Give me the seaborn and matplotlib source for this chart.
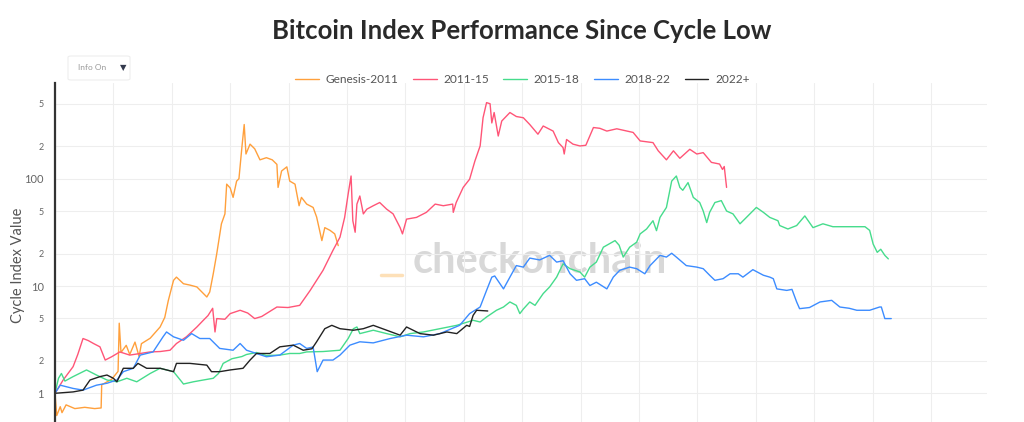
import matplotlib
matplotlib.use('Agg')
import matplotlib.pyplot as plt
import seaborn as sns
import pandas as pd
from matplotlib.patches import FancyBboxPatch
from matplotlib.lines import Line2D

# (day since cycle low, index value)
genesis_2011 = [(0, 1.0), (3, 0.62), (9, 0.75), (12, 0.66), (19, 0.78), (34, 0.72), (51, 0.74), (68, 0.72),
                (79, 0.73), (80, 1.2), (97, 1.35), (108, 1.6), (110, 4.5), (113, 2.4), (122, 2.8), (128, 2.3),
                (137, 3.0), (144, 2.2), (148, 2.9), (163, 3.26), (180, 4.15), (188, 5.1), (194, 7.3),
                (203, 11.3), (208, 12.1), (220, 10.5), (231, 10.2), (243, 9.8), (260, 7.9), (265, 8.8),
                (271, 13), (277, 20), (285, 38), (291, 47), (294, 89), (300, 82), (305, 67), (311, 95),
                (315, 100), (320, 195), (324, 320), (327, 170), (334, 210), (342, 190), (351, 150), (362, 157),
                (372, 150), (380, 136), (382, 83), (388, 118), (397, 129), (402, 95), (411, 89), (418, 56),
                (422, 67), (431, 58), (442, 54), (448, 44), (457, 26.5), (462, 35), (471, 33), (479, 30.6),
                (485, 23.8)]

cycle_2011_15 = [(0, 1.0), (14, 1.33), (31, 1.77), (39, 2.3), (48, 3.24), (57, 3.1), (66, 2.91), (77, 2.71),
                 (86, 2.04), (97, 2.19), (111, 2.43), (128, 2.27), (146, 2.35), (163, 2.43), (180, 2.45),
                 (197, 2.52), (208, 2.91), (225, 3.36), (243, 4.15), (254, 4.79), (262, 5.3), (270, 6.2),
                 (274, 3.73), (277, 4.97), (291, 4.9), (300, 5.53), (317, 5.94), (330, 5.6), (342, 4.97),
                 (354, 5.2), (380, 6.37), (399, 6.3), (419, 6.6), (437, 9.1), (459, 14), (476, 21.5),
                 (488, 28.5), (496, 43.6), (502, 72), (507, 106), (510, 40.6), (514, 31.7), (517, 58),
                 (522, 69), (528, 47), (534, 52), (545, 56), (556, 60), (568, 52), (579, 47), (591, 35),
                 (595, 30.6), (602, 42), (619, 43.6), (636, 48.6), (651, 58), (665, 56), (681, 58),
                 (682, 48.6), (687, 60), (699, 83), (710, 99), (719, 146), (728, 202), (733, 370), (739, 512),
                 (745, 500), (748, 331), (752, 414), (759, 250), (765, 345), (779, 414), (790, 380),
                 (802, 370), (813, 320), (827, 260), (836, 310), (853, 278), (862, 217), (870, 195),
                 (872, 170), (876, 232), (887, 210), (899, 202), (909, 205), (922, 300), (933, 295),
                 (945, 278), (962, 292), (990, 270), (1002, 225), (1024, 217), (1033, 182), (1047, 150),
                 (1059, 182), (1070, 155), (1087, 188), (1099, 170), (1110, 175), (1124, 142), (1138, 137),
                 (1143, 122), (1146, 130), (1150, 83)]

cycle_2015_18 = [(0, 1.0), (6, 1.38), (11, 1.53), (17, 1.3), (31, 1.43), (54, 1.65), (71, 1.48), (89, 1.33),
                 (106, 1.28), (123, 1.38), (140, 1.28), (163, 1.53), (180, 1.71), (203, 1.59), (217, 1.28),
                 (220, 1.22), (237, 1.28), (254, 1.33), (271, 1.38), (280, 1.53), (288, 1.9), (303, 2.1),
                 (320, 2.2), (328, 2.3), (345, 2.4), (362, 2.25), (385, 2.27), (402, 2.35), (419, 2.35),
                 (431, 2.43), (459, 2.45), (488, 2.52), (502, 3.24), (511, 4.0), (517, 4.15), (522, 3.6),
                 (545, 3.87), (568, 3.6), (591, 3.36), (608, 3.6), (631, 3.73), (659, 4.0), (688, 4.3),
                 (716, 4.79), (728, 4.62), (739, 5.14), (756, 5.94), (768, 6.37), (779, 7.1), (790, 6.6),
                 (796, 5.53), (802, 6.1), (813, 7.1), (822, 6.6), (836, 8.5), (847, 9.8), (859, 12.1),
                 (870, 16.1), (882, 14.5), (899, 13.5), (907, 12.1), (916, 15), (927, 16.7), (939, 23),
                 (959, 26.5), (966, 24), (973, 18.6), (984, 23), (996, 25.6), (1002, 30.6), (1013, 34),
                 (1024, 40.6), (1030, 32.8), (1036, 43.6), (1047, 54), (1056, 95), (1064, 106), (1070, 83),
                 (1075, 78), (1084, 92), (1093, 67), (1104, 60), (1110, 50), (1116, 39), (1121, 48.6),
                 (1130, 60), (1141, 62.5), (1150, 50), (1161, 47), (1173, 38), (1184, 43.6), (1201, 54),
                 (1213, 48.6), (1224, 43.6), (1238, 40.6), (1241, 36.6), (1255, 34), (1270, 36.6),
                 (1284, 45), (1298, 35), (1315, 38), (1332, 35.7), (1361, 35.7), (1387, 35.7), (1395, 33),
                 (1401, 24.6), (1408, 20.6), (1414, 22), (1421, 19.3), (1427, 17.9)]

cycle_2018_22 = [(0, 1.0), (9, 1.19), (31, 1.11), (48, 1.07), (71, 1.19), (89, 1.24), (106, 1.33),
                 (117, 1.59), (134, 1.71), (146, 2.27), (168, 2.43), (185, 3.36), (191, 3.73), (203, 3.36),
                 (220, 3.12), (234, 3.6), (248, 3.24), (265, 3.24), (282, 2.62), (305, 2.52), (317, 2.91),
                 (328, 2.52), (345, 2.35), (362, 2.19), (385, 2.27), (408, 2.81), (419, 2.91), (431, 2.62),
                 (442, 2.7), (449, 1.59), (459, 2.04), (476, 2.04), (488, 2.27), (505, 2.81), (522, 3.02),
                 (545, 2.95), (574, 3.24), (602, 3.48), (631, 3.36), (659, 3.6), (693, 4.3), (710, 5.53),
                 (728, 6.37), (739, 9.1), (748, 12.1), (753, 12.4), (762, 10.5), (768, 9.4), (779, 12.1),
                 (790, 15.5), (802, 15), (813, 18.2), (830, 17.5), (847, 19.3), (859, 16.7), (870, 17.2),
                 (882, 13), (893, 11.3), (907, 11.7), (916, 10.1), (927, 10.85), (945, 9.4), (956, 12.1),
                 (967, 14), (984, 15), (996, 14.5), (1010, 13), (1019, 15.5), (1036, 19.3), (1047, 18.6),
                 (1056, 20.2), (1064, 18.6), (1081, 15.5), (1099, 15), (1110, 14.5), (1121, 12.6),
                 (1130, 11.3), (1144, 11.7), (1156, 13), (1170, 13), (1178, 12.1), (1195, 14.2),
                 (1213, 12.6), (1224, 12.1), (1230, 11.7), (1236, 9.4), (1253, 9.1), (1262, 9.3),
                 (1270, 7.1), (1275, 6.15), (1292, 6.3), (1310, 7.1), (1330, 7.35), (1344, 6.37),
                 (1360, 6.2), (1373, 5.94), (1395, 5.94), (1412, 6.37), (1415, 6.37), (1421, 4.97),
                 (1432, 4.97)]

cycle_2022 = [(0, 1.0), (31, 1.03), (48, 1.07), (60, 1.33), (77, 1.43), (89, 1.48), (100, 1.38), (106, 1.28),
              (117, 1.71), (134, 1.71), (142, 1.9), (157, 1.71), (180, 1.71), (203, 1.59), (208, 1.9),
              (231, 1.9), (260, 1.83), (268, 1.59), (282, 1.59), (300, 1.65), (322, 1.71), (334, 2.04),
              (345, 2.35), (368, 2.35), (385, 2.71), (408, 2.81), (425, 2.52), (440, 2.6), (448, 3.02),
              (462, 4.0), (474, 4.3), (488, 4.0), (511, 3.87), (528, 4.0), (545, 4.3), (568, 3.87),
              (591, 3.48), (602, 4.15), (625, 3.6), (648, 3.48), (671, 3.73), (688, 3.6), (705, 4.3),
              (710, 4.2), (716, 5.33), (722, 5.94), (741, 5.85)]

cycles = ['Genesis-2011', '2011-15', '2015-18', '2018-22', '2022+']
series = [genesis_2011, cycle_2011_15, cycle_2015_18, cycle_2018_22, cycle_2022]
colors = ['#ffa03c', '#ff5577', '#46dc8c', '#3c8cff', '#222222']
y_ticks = [1, 2, 5, 10, 20, 50, 100, 200, 500]
y_tick_labels = ['1', '2', '5', '10', '2', '5', '100', '2', '5']

rows = []
for name, pts in zip(cycles, series):
    for d, v in pts:
        rows.append({'day': d, 'value': v, 'cycle': name})
df = pd.DataFrame(rows)

sns.set_theme(style='white')
plt.rcParams['font.family'] = ['Lato', 'DejaVu Sans']

fig = plt.figure(figsize=(10.24, 4.22), dpi=100)
ax = fig.add_axes([0.0537, 0.0, 0.9102, 0.8033])

sns.lineplot(data=df, x='day', y='value', hue='cycle', hue_order=cycles,
             palette=dict(zip(cycles, colors)), linewidth=1.0, estimator=None,
             sort=False, ax=ax, legend=False)

ax.set_yscale('log')
ax.set_ylim(0.54, 780)
ax.set_xlim(0, 1596)
ax.set_xticks(range(0, 1600, 100))
ax.set_xticklabels([])
ax.set_yticks(y_ticks)
ax.set_yticklabels(y_tick_labels)
ax.yaxis.set_minor_locator(matplotlib.ticker.NullLocator())
for lab, val in zip(ax.get_yticklabels(), y_ticks):
    lab.set_fontsize(8 if val in (1, 10, 100) else 6.5)
    lab.set_color('#666666')
ax.tick_params(axis='both', length=0, pad=8)
ax.grid(True, color='#eeeeee', linewidth=0.8)
ax.set_xlabel('')
ax.set_ylabel('Cycle Index Value', fontsize=10.5, color='#555555')
ax.yaxis.set_label_coords(-0.032, 0.463)
for s in ['top', 'right', 'bottom']:
    ax.spines[s].set_visible(False)
ax.spines['left'].set_color('#333333')
ax.spines['left'].set_linewidth(1.6)

# watermark
ax.text(0.52, 0.475, 'checkonchain', transform=ax.transAxes, fontsize=30, fontweight='bold',
        color='#d8d8d8', ha='center', va='center', zorder=0)
fig.add_artist(Line2D([381 / 1024, 402 / 1024], [1 - 275 / 422, 1 - 275 / 422],
                      color='#fde0b8', linewidth=2.5))

fig.suptitle('Bitcoin Index Performance Since Cycle Low', x=0.509, y=0.955,
             fontsize=18.5, fontweight='bold', color='#2a2a2a')

handles = [Line2D([], [], color=c, linewidth=1.0) for c in colors]
fig.legend(handles, cycles, loc='center', bbox_to_anchor=(0.51, 0.812), ncol=5, frameon=False,
           fontsize=8.6, handlelength=2.0, columnspacing=1.2, handletextpad=0.55, labelcolor='#555555')

# "Info On" dropdown box
box = FancyBboxPatch((68 / 1024, 1 - 80 / 422), 62 / 1024, 24 / 422, boxstyle='round,pad=0,rounding_size=0.003',
                     transform=fig.transFigure, facecolor='white', edgecolor='#eeeeee', linewidth=0.8)
fig.add_artist(box)
fig.text(78 / 1024, 1 - 68 / 422, 'Info On', fontsize=6, color='#999999', va='center')
fig.text(120 / 1024, 1 - 68 / 422, '▼', fontsize=6, color='#333a4d', va='center',
         family=['DejaVu Sans'])

fig.savefig('out.png', dpi=100)
